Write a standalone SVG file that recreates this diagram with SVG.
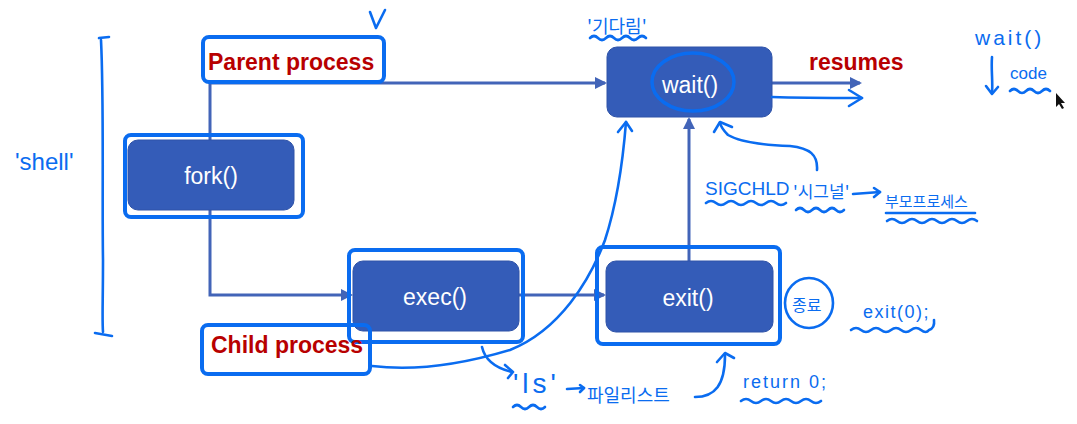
<svg xmlns="http://www.w3.org/2000/svg" width="1077" height="424" viewBox="0 0 1077 424">
<style>
.conn{fill:none;stroke:#4264b8;stroke-width:3}
.node{fill:#345cb8;stroke:#2f53a8;stroke-width:1}
.nlabel{font-family:"Liberation Sans",Arial,sans-serif;font-size:23px;fill:#ffffff;text-anchor:middle}
.tag{font-family:"Liberation Sans",Arial,sans-serif;font-size:23px;font-weight:bold;fill:#b80000}
.hl{fill:none;stroke:#0a6cf0;stroke-width:4}
.pen{fill:none;stroke:#0a6cf0;stroke-width:2.6;stroke-linecap:round;stroke-linejoin:round}
.hand{font-family:"Liberation Sans","Noto Sans CJK KR",sans-serif;fill:#0a6cf0}
.kr{font-family:"Noto Sans CJK KR","Liberation Sans",sans-serif;fill:#0a6cf0}
</style>
<defs>
<marker id="arr" markerWidth="12" markerHeight="12" refX="10" refY="6" orient="auto" markerUnits="userSpaceOnUse">
<path d="M0,0 L12,6 L0,12 Z" fill="#4264b8"/>
</marker>
</defs>
<rect width="1077" height="424" fill="#ffffff"/>

<g id="connectors">
<path class="conn" d="M210,140 V83 H605" marker-end="url(#arr)"/>
<path class="conn" d="M210,210 V295 H351" marker-end="url(#arr)"/>
<path class="conn" d="M519,295 H604" marker-end="url(#arr)"/>
<path class="conn" d="M689,261 V119" marker-end="url(#arr)"/>
<path class="conn" d="M772,83 H860" marker-end="url(#arr)"/>
</g>

<g id="node-parent">
<rect class="hl" x="203" y="37" width="181" height="45" rx="6" style="fill:#ffffff"/>
<text class="tag" x="208" y="70">Parent process</text>
</g>

<g id="node-fork">
<rect class="node" x="128" y="140" width="166" height="70" rx="10"/>
<text class="nlabel" x="211" y="184">fork()</text>
<rect class="hl" x="125" y="135" width="178" height="82" rx="6"/>
</g>

<g id="node-wait">
<rect class="node" x="607" y="47" width="165" height="70" rx="10"/>
<text class="nlabel" x="690" y="93">wait()</text>
</g>

<g id="node-exec">
<rect class="node" x="353" y="261" width="166" height="70" rx="10"/>
<text class="nlabel" x="435" y="305">exec()</text>
<rect class="hl" x="349" y="250" width="174" height="92" rx="6"/>
</g>

<g id="node-exit">
<rect class="node" x="606" y="261" width="167" height="71" rx="10"/>
<text class="nlabel" x="688" y="306">exit()</text>
<rect class="hl" x="597" y="247" width="183" height="97" rx="6"/>
</g>

<g id="node-child">
<rect class="hl" x="202" y="325" width="168" height="49" rx="6"/>
<text class="tag" x="211" y="353">Child process</text>
</g>

<g id="node-resumes">
<text class="tag" x="809" y="70">resumes</text>
</g>

<g id="annotations">
<path class="pen" d="M101,40 C104,100 102,200 103,260 C103,300 102,320 103,332"/>
<path class="pen" d="M99,38 L109,37"/>
<path class="pen" d="M95,333 L112,336"/>
<text class="hand" x="15" y="170" font-size="24">'shell'</text>
<path class="pen" d="M370,12 L376,28 L385,10"/>

<text class="kr" x="587" y="33" font-size="18">'기다림'</text>
<path class="pen" d="M590,38 q4,-4 8,0 t8,0 t8,0 t8,0 t8,0 t8,0 t8,0"/>
<ellipse class="pen" cx="693" cy="82" rx="41" ry="29" style="stroke-width:3.5"/>
<path class="pen" d="M772,97 C800,98 830,98 862,98"/>
<path class="pen" d="M849,90 L862,98 L849,106"/>

<text class="hand" x="975" y="45" font-size="21" letter-spacing="3">wait()</text>
<path class="pen" d="M992,57 C991,70 993,82 992,93"/>
<path class="pen" d="M986,86 L992,94 L998,87"/>
<text class="hand" x="1010" y="79" font-size="17">code</text>
<path class="pen" d="M1010,91 q4,-4 8,0 t8,0 t8,0 t8,0 t8,0"/>
<path d="M1056,93 L1056,107 L1059,104 L1062,109 L1064,108 L1061,103 L1065,103 Z" fill="#111111"/>

<path class="pen" d="M817,170 C818,155 810,148 790,146 C760,145 740,142 728,135 C723,130 721,127 720,123"/>
<path class="pen" d="M714,132 L720,122 L732,127"/>
<text class="hand" x="705" y="195" font-size="19">SIGCHLD</text>
<path class="pen" d="M706,203 q5,-4 10,0 t10,0 t10,0 t10,0 t10,0 t10,0 t10,0 t10,0"/>
<text class="kr" x="793" y="198" font-size="17">'시그널'</text>
<path class="pen" d="M796,210 q4,-4 8,0 t8,0 t8,0 t8,0 t8,0 t8,0"/>
<path class="pen" d="M853,194 L880,192"/>
<path class="pen" d="M874,188 L880,192 L874,197"/>
<text class="kr" x="885" y="207" font-size="15">부모프로세스</text>
<path class="pen" d="M886,213 L975,213"/>
<path class="pen" d="M887,221 q5,-4 10,0 t10,0 t10,0 t10,0 t10,0 t10,0 t10,0 t10,0 t10,0"/>

<path class="pen" d="M372,366 C420,372 470,362 510,350 C560,330 590,280 605,240 C618,200 623,160 626,122"/>
<path class="pen" d="M618,132 L626,122 L632,131"/>

<path class="pen" d="M482,347 C485,360 495,368 512,372"/>
<path class="pen" d="M505,365 L513,372 L508,378"/>
<text class="hand" x="513" y="393" font-size="28" letter-spacing="4">'ls'</text>
<path class="pen" d="M513,407 q4,-4 8,0 t8,0 t8,0 t8,0"/>
<path class="pen" d="M567,389 L584,388"/>
<path class="pen" d="M580,385 L584,388 L580,392"/>
<text class="kr" x="587" y="402" font-size="18">파일리스트</text>

<path class="pen" d="M695,397 C715,397 725,385 725,355"/>
<path class="pen" d="M717,362 L725,353 L734,358"/>
<text class="hand" x="743" y="388" font-size="18" letter-spacing="2">return 0;</text>
<path class="pen" d="M741,401 q5,-4 10,0 t10,0 t10,0 t10,0 t10,0 t10,0 t10,0 t10,0"/>

<ellipse class="pen" cx="809" cy="303" rx="24" ry="25"/>
<text class="kr" x="792" y="311" font-size="16">종료</text>
<text class="hand" x="863" y="318" font-size="18" letter-spacing="1.5">exit(0);</text>
<path class="pen" d="M851,330 q5,-4 10,0 t10,0 t10,0 t10,0 t10,0 t10,0 t10,0 t8,0 q6,-2 5,-10"/>
</g>
</svg>
